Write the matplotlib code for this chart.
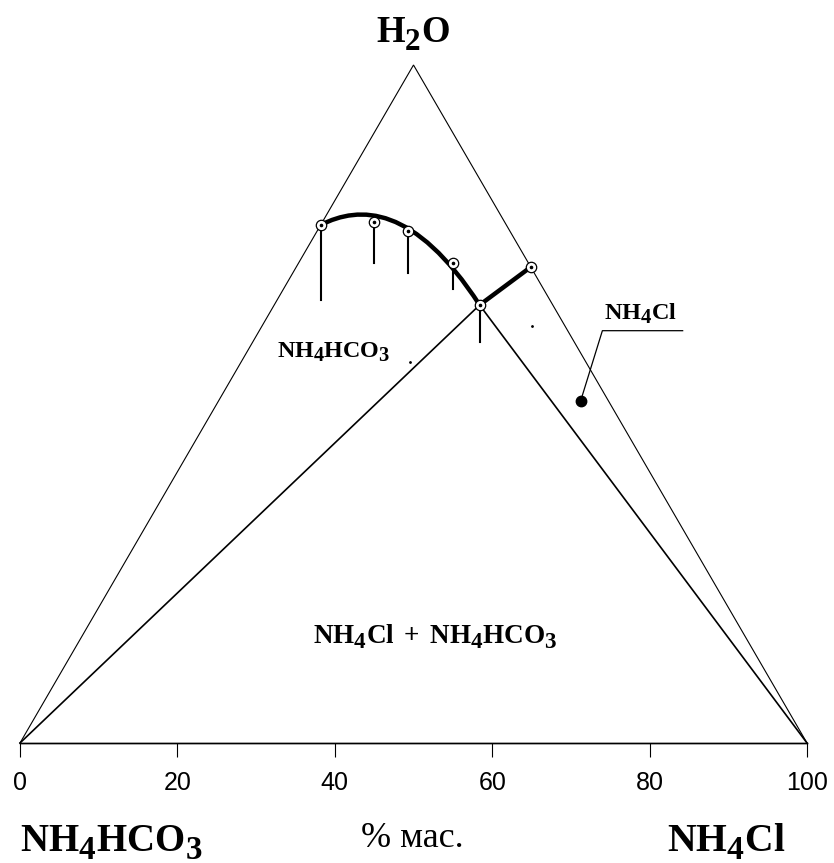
import numpy as np
import matplotlib
matplotlib.use("Agg")
import matplotlib.pyplot as plt
from matplotlib.path import Path
from matplotlib.patches import PathPatch
import matplotlib._mathtext as _mt

# larger, lower subscripts like the reference typesetting
_mt.SHRINK_FACTOR = 0.85
_mt.FontConstantsBase.sub1 = 0.45

plt.rcParams['mathtext.fontset'] = 'custom'
plt.rcParams['mathtext.rm'] = 'Liberation Serif'
plt.rcParams['mathtext.bf'] = 'Liberation Serif:bold'
plt.rcParams['mathtext.it'] = 'Liberation Serif:italic'

# ---- data: compositions, % mass ----
# solubility points (NH4Cl %, H2O %)
sol_nh4cl = [0.0, 6.6, 11.6, 19.6, 26.1, 29.8]
sol_h2o = [76.4, 76.8, 75.5, 70.8, 64.6, 70.2]
# vertical drop lines under points 1..5 (in H2O % units)
drop_len = [11.1, 6.0, 6.2, 3.8, 5.4]
# Bezier control points of the NH4HCO3 branch (start, c1, c2, end)
curve_nh4cl = [0.0, 3.5, 10.5, 26.1]
curve_h2o = [76.4, 79.35, 79.35, 64.6]
# single experimental point (filled)
pt_nh4cl = [46.0]
pt_h2o = [50.5]
# tiny marks
speck_nh4cl = [34.3, 21.5]
speck_h2o = [61.5, 56.2]

ticks = [0, 20, 40, 60, 80, 100]
tick_labels = ['0', '20', '40', '60', '80', '100']

H = 86.15  # height of triangle in x-units


def xy(b, c):
    b = np.asarray(b, float)
    c = np.asarray(c, float)
    return b + 0.5 * c, c * H / 100.0


fig = plt.figure(figsize=(8.34, 8.63), dpi=100)
ax = fig.add_axes([0, 0, 1, 1])
ax.set_xlim((0 - 20) / 7.87, (834 - 20) / 7.87)
ax.set_ylim((743 - 863) / 7.87, (743 - 0) / 7.87)

# triangle
tx, ty = xy([0, 100, 0, 0], [0, 0, 100, 0])
ax.plot(tx[1:], ty[1:], color='black', lw=0.8, solid_joinstyle='miter')
ax.plot(tx[:2], ty[:2], color='black', lw=1.0)

# lines from eutectic point to base vertices
ex, ey = xy([sol_nh4cl[4]], [sol_h2o[4]])
lx, ly = xy([0, 100], [0, 0])
ax.plot([lx[0], ex[0], lx[1]], [ly[0], ey[0], ly[1]], color='black', lw=1.2)

# thick curve NH4HCO3 branch
cx, cy = xy(curve_nh4cl, curve_h2o)
path = Path(np.column_stack([cx, cy]), [Path.MOVETO, Path.CURVE4, Path.CURVE4, Path.CURVE4])
ax.add_patch(PathPatch(path, fill=False, lw=3.2, edgecolor='black', capstyle='round'))

# NH4Cl branch
bx, by = xy(sol_nh4cl[4:], sol_h2o[4:])
ax.plot(bx, by, color='black', lw=3.2, solid_capstyle='round')

# vertical drops
px_, py_ = xy(sol_nh4cl, sol_h2o)
for i, d in enumerate(drop_len):
    ax.plot([px_[i], px_[i]], [py_[i], py_[i] - d * H / 100.0], color='black', lw=1.5)

# open circles
ax.plot(px_, py_, 'o', ms=7.5, mfc='white', mec='black', mew=0.9, zorder=5)
ax.plot(px_, py_, 'o', ms=1.6, color='black', zorder=6)

# filled point + leader
fx, fy = xy(pt_nh4cl, pt_h2o)
ax.plot(fx, fy, 'o', ms=7.5, color='black', zorder=5)
ax.plot([fx[0], 74.0, 84.2], [fy[0], 52.39, 52.39], color='black', lw=0.9)

sx, sy = xy(speck_nh4cl, speck_h2o)
ax.plot(sx, sy, 'o', ms=1.0, color='black')

# axis with ticks
for s in ['top', 'right', 'left']:
    ax.spines[s].set_visible(False)
ax.spines['bottom'].set_position(('data', 0))
ax.spines['bottom'].set_bounds(0, 100)
ax.spines['bottom'].set_linewidth(1.0)
ax.set_xticks(ticks)
ax.set_xticklabels(tick_labels)
ax.set_yticks([])
ax.tick_params(axis='x', direction='out', length=10, width=0.8, pad=10,
               labelsize=18)
for lab in ax.get_xticklabels():
    lab.set_family('Liberation Sans')

# labels
ax.text(50.0, 88.9, r'$\mathbf{H_2O}$', fontsize=26.5, ha='center', va='baseline')
ax.text(0.0, -13.75, r'$\mathbf{NH_4HCO_3}$', fontsize=28, ha='left', va='baseline')
ax.text(97.3, -13.75, r'$\mathbf{NH_4Cl}$', fontsize=28.5, ha='right', va='baseline')
ax.text(49.9, -13.2, '% мас.', fontsize=26, ha='center', va='baseline',
        family='Liberation Serif')
ax.text(39.8, 49.05, r'$\mathbf{NH_4HCO_3}$', fontsize=17.3, ha='center', va='baseline')
ax.text(52.8, 12.7, r'$\mathbf{NH_4Cl\ +\ NH_4HCO_3}$', fontsize=19.5, ha='center',
        va='baseline')
ax.text(78.9, 53.9, r'$\mathbf{NH_4Cl}$', fontsize=17.5, ha='center', va='baseline')

fig.savefig('out.png', dpi=100)
